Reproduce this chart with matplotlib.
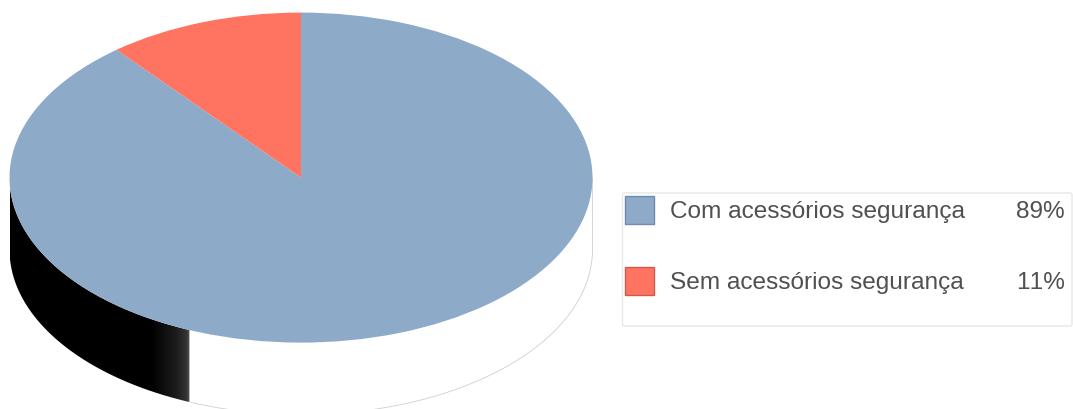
import numpy as np
import matplotlib
matplotlib.use("Agg")
import matplotlib.pyplot as plt
from matplotlib.patches import Rectangle, Polygon, FancyBboxPatch
from matplotlib.colors import LinearSegmentedColormap

labels = ["Com acessórios segurança", "Sem acessórios segurança"]
values = [89.1, 10.9]
value_labels = ["89%", "11%"]
colors = ["#8eaac9", "#ff7361"]
edge_colors = ["#6f8bad", "#cf5b4c"]

W, H = 1073, 410
CX, CY, RX, RY = 301.0, 178.6, 291.5, 165.0
DEPTH = 72.0 / RY
SHADE_END = -0.381   # where the dark side wall stops, in pie units

plt.rcParams["font.family"] = ["Liberation Sans", "DejaVu Sans"]
plt.rcParams["text.kerning_factor"] = 6
fig = plt.figure(figsize=(W / 100, H / 100), dpi=100, facecolor="white")
ax = fig.add_axes([0, 0, 1, 1])

# side wall, drawn below the top of the pie
theta = np.linspace(np.pi, 2 * np.pi, 721)
xs, ys = np.cos(theta), np.sin(theta)
mask = xs <= SHADE_END
wall_x = np.r_[xs[mask], xs[mask][::-1]]
wall_y = np.r_[ys[mask] - DEPTH, ys[mask][::-1]]
wall = Polygon(np.c_[wall_x, wall_y], closed=True, fc="none", ec="none")
ax.add_patch(wall)
cmap = LinearSegmentedColormap.from_list(
    "wall",
    [(0, "#000000"), (0.78, "#000000"), (0.84, "#0c0c0c"), (0.92, "#1c1c1c"),
     (0.975, "#333333"), (0.99, "#484848"), (1, "#9a9a9a")],
)
img = ax.imshow(
    np.linspace(0, 1, 256)[None, :], cmap=cmap, aspect="auto",
    extent=(-1, SHADE_END, -1 - DEPTH, 1), zorder=1,
)
img.set_clip_path(wall)

# outline of the white part of the wall
lit = xs >= SHADE_END
ax.plot(
    np.r_[xs[lit], 1, 1], np.r_[ys[lit] - DEPTH, 0 - DEPTH, 0],
    color="#cfcfcf", lw=0.6, zorder=1.5,
)

wedges, _ = ax.pie(
    values, colors=colors, startangle=90, counterclock=False,
    radius=1, center=(0, 0), wedgeprops=dict(linewidth=0, antialiased=True),
)
for w in wedges:
    w.set_zorder(2)

ax.set_xlim(-CX / RX, (W - CX) / RX)
ax.set_ylim((CY - H) / RY, CY / RY)
ax.set_aspect("auto")
ax.axis("off")

# legend in pixel coordinates
lax = fig.add_axes([0, 0, 1, 1], facecolor="none")
lax.set_xlim(0, W)
lax.set_ylim(H, 0)
lax.axis("off")
lax.add_patch(FancyBboxPatch(
    (622.5, 194), 449.5, 133, boxstyle="round,pad=0,rounding_size=2",
    fc="white", ec="#e8e8e8", lw=1.0,
))
for i, (lab, val) in enumerate(zip(labels, value_labels)):
    top = 196.5 + 71 * i
    lax.add_patch(Rectangle((625, top + 0.5), 28.5, 28, fc=colors[i], ec=edge_colors[i], lw=1.0))
    lax.text(670.5, top + 16, lab, color="#505050", fontsize=17.55, va="center", ha="left")
    lax.text(1064.5, top + 16, val, color="#505050", fontsize=17.55, va="center", ha="right")

fig.savefig("out.png", dpi=100)
